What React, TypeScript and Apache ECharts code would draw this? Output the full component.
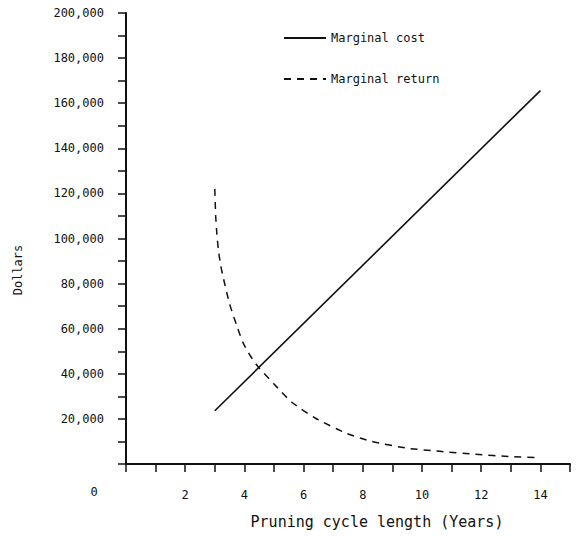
import React, { useEffect, useRef } from "react";
import * as echarts from "echarts";

const costYears = [3, 14];
const costValues = [23600, 165600];

const returnYears = [3.0, 3.03, 3.07, 3.12, 3.2, 3.28, 3.5, 3.75, 3.96, 4.2, 4.47, 5.0, 5.6, 6.4, 7.45, 8.3, 9.5, 10.6, 11.8, 13.0, 14.0];
const returnValues = [122000, 110000, 102000, 95000, 88000, 83000, 71000, 61000, 53600, 48000, 43000, 35500, 27400, 20300, 13600, 10000, 7000, 5600, 4300, 3300, 2800];

const seriesNames = ["Marginal cost", "Marginal return"];
const xTitle = "Pruning cycle length (Years)";
const yTitle = "Dollars";
const originLabel = "0";

const FONT = "DejaVu Sans Mono";
const INK = "#111";

export default function App() {
  const ref = useRef<HTMLDivElement>(null);
  useEffect(() => {
    if (!ref.current) return;
    const chart = echarts.init(ref.current, null, { renderer: "svg" });
    chart.setOption({
      animation: false,
      backgroundColor: "#fff",
      grid: { left: 126, right: 11, top: 13, bottom: 73, containLabel: false },
      legend: {
        orient: "vertical",
        left: 283,
        top: 32,
        padding: 0,
        itemWidth: 42,
        itemHeight: 12,
        itemGap: 29,
        data: seriesNames,
        itemStyle: { opacity: 0 },
        textStyle: { fontFamily: FONT, fontSize: 12, color: INK },
      },
      xAxis: {
        type: "value",
        min: 0,
        max: 15,
        interval: 1,
        axisLine: { show: true, lineStyle: { color: INK, width: 2 } },
        axisTick: { show: true, inside: false, length: 8, lineStyle: { color: INK, width: 1.5 } },
        splitLine: { show: false },
        axisLabel: {
          margin: 25,
          fontFamily: FONT,
          fontSize: 12,
          color: INK,
          formatter: (v: number) => (v > 0 && v < 15 && v % 2 === 0 ? String(v) : ""),
        },
      },
      yAxis: {
        type: "value",
        min: 0,
        max: 200000,
        interval: 10000,
        axisLine: { show: true, lineStyle: { color: INK, width: 2 } },
        axisTick: { show: true, inside: false, length: 8, lineStyle: { color: INK, width: 1.5 } },
        splitLine: { show: false },
        axisLabel: {
          margin: 22,
          fontFamily: FONT,
          fontSize: 12,
          color: INK,
          formatter: (v: number) => (v > 0 && v % 20000 === 0 ? v.toLocaleString("en-US") : ""),
        },
      },
      series: [
        {
          name: seriesNames[0],
          type: "line",
          symbol: "none",
          data: costYears.map((x, i) => [x, costValues[i]]),
          lineStyle: { color: INK, width: 1.6, type: "solid" },
          itemStyle: { color: INK },
        },
        {
          name: seriesNames[1],
          type: "line",
          symbol: "none",
          smooth: 0.2,
          data: returnYears.map((x, i) => [x, returnValues[i]]),
          lineStyle: { color: INK, width: 1.5, type: [7, 6] },
          itemStyle: { color: INK },
        },
      ],
      graphic: [
        {
          type: "text",
          x: 94,
          y: 492,
          style: { text: originLabel, font: `12px "${FONT}"`, fill: INK, align: "center", verticalAlign: "middle" },
        },
        {
          type: "text",
          x: 377,
          y: 522,
          style: { text: xTitle, font: `15px "${FONT}"`, fill: INK, align: "center", verticalAlign: "middle" },
        },
        {
          type: "text",
          x: 18,
          y: 270,
          rotation: Math.PI / 2,
          style: { text: yTitle, font: `12px "${FONT}"`, fill: INK, align: "center", verticalAlign: "middle" },
        },
      ],
    });
    return () => chart.dispose();
  }, []);
  return <div ref={ref} style={{ position: "fixed", left: 0, top: 0, width: 581, height: 537 }} />;
}
